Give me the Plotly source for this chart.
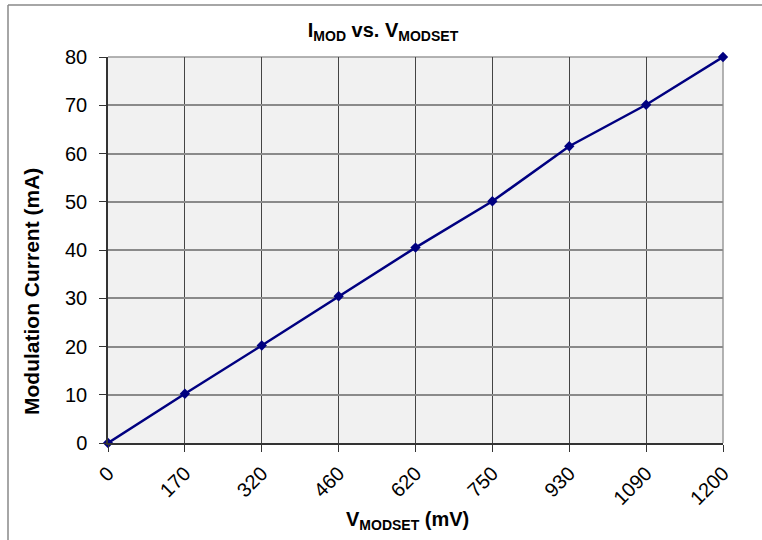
import plotly.graph_objects as go

vmodset = ["0", "170", "320", "460", "620", "750", "930", "1090", "1200"]
imod = [0, 10.2, 20.2, 30.4, 40.5, 50.1, 61.5, 70.1, 80]
y_ticks = [0, 10, 20, 30, 40, 50, 60, 70, 80]

fig = go.Figure()
fig.add_trace(go.Scatter(
    x=vmodset, y=imod, mode="lines+markers",
    line=dict(color="#000080", width=2.5),
    marker=dict(symbol="diamond", size=8, color="#000080"),
    showlegend=False, cliponaxis=False,
))

L, R, T, B = 108, 723, 57, 443
W, H = 762, 540
fig.update_layout(
    width=W, height=H,
    margin=dict(l=L, r=W - R, t=T, b=H - B),
    paper_bgcolor="white",
    plot_bgcolor="#f1f1f1",
    font=dict(family="Liberation Sans, Arial, sans-serif", color="black"),
    title=dict(text="<b>I<sub>MOD</sub> vs. V<sub>MODSET</sub></b>",
               x=383 / W, xanchor="center", xref="container",
               y=1 - 30 / H, yanchor="middle", yref="container",
               font=dict(size=20)),
)
fig.update_xaxes(
    type="category", range=[0, 8],
    tickangle=-45, tickfont=dict(size=20),
    ticks="outside", ticklen=7, tickcolor="#333",
    ticklabelstandoff=2,
    showgrid=True, gridcolor="#444", gridwidth=1,
    showline=True, linecolor="#333", linewidth=1.5,
    mirror=False,
)
fig.update_yaxes(
    range=[0, 80], tickvals=y_ticks,
    tickfont=dict(size=20),
    ticks="outside", ticklen=7, tickcolor="#333",
    ticklabelstandoff=8,
    showgrid=True, gridcolor="#8a8a8a", gridwidth=1.5,
    showline=True, linecolor="#333", linewidth=1.5,
    zeroline=False,
)
# axis titles
fig.add_annotation(text="<b>V<sub>MODSET</sub> (mV)</b>", xref="paper", yref="paper",
                   x=(407 - L) / (R - L), y=(B - 520) / (B - T),
                   xanchor="center", yanchor="middle", showarrow=False,
                   font=dict(size=20))
fig.add_annotation(text="<b>Modulation Current (mA)</b>", xref="paper", yref="paper",
                   x=(31 - L) / (R - L), y=(B - 292) / (B - T), textangle=-90,
                   xanchor="center", yanchor="middle", showarrow=False,
                   font=dict(size=21))
# plot area top and right edges
fig.add_shape(type="line", xref="paper", yref="paper", x0=0, x1=1, y0=1, y1=1,
              line=dict(color="#9a9a9a", width=1.5), layer="below")
fig.add_shape(type="line", xref="paper", yref="paper", x0=1, x1=1, y0=0, y1=1,
              line=dict(color="#9a9a9a", width=1.5), layer="below")
# outer chart border (left and top)
pw, ph = R - L, B - T
bx = (8 - L) / pw
by = (B - 5) / ph
fig.add_shape(type="line", xref="paper", yref="paper", x0=bx, x1=bx, y0=by, y1=(B - 545) / ph,
              line=dict(color="#888", width=1.5))
fig.add_shape(type="line", xref="paper", yref="paper", x0=bx, x1=(770 - L) / pw, y0=by, y1=by,
              line=dict(color="#888", width=1.5))

fig.write_html("out.html", config={"displayModeBar": False},
               post_script="document.body.style.margin='0';")
